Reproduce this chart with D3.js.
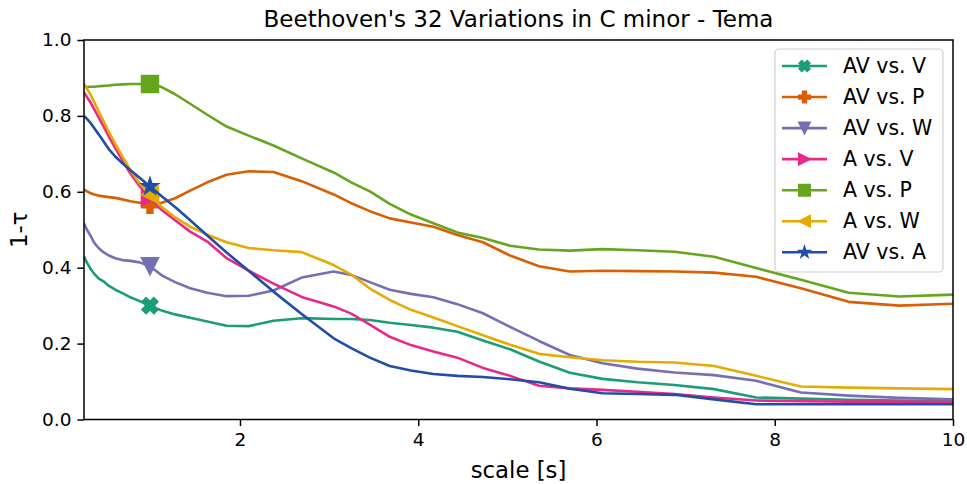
<!DOCTYPE html>
<html>
<head>
<meta charset="utf-8">
<script src="https://cdn.jsdelivr.net/npm/d3@7/dist/d3.min.js"></script>
<style>
  html, body { margin: 0; padding: 0; background: #fff; }
  svg { display: block; font-family: "DejaVu Sans", sans-serif; }
</style>
</head>
<body>
<svg id="chart" width="967" height="484"></svg>
<script>
// Time scales (seconds) at which the dissimilarity was evaluated
const scales = [0.25, 0.283, 0.321, 0.364, 0.413, 0.468, 0.530, 0.601, 0.681, 0.771,
  0.874, 0.990, 1.122, 1.272, 1.441, 1.633, 1.850, 2.097, 2.376, 2.692,
  3.051, 3.248, 3.457, 3.680, 3.918, 4.170, 4.439, 4.726, 5.030, 5.355,
  5.700, 6.068, 6.459, 6.876, 7.319, 7.791, 8.294, 8.829, 9.398, 10.0];

// 1 - tau for each comparison
const avV = [0.430, 0.413, 0.398, 0.384, 0.372, 0.364, 0.352, 0.342, 0.333, 0.322,
  0.312, 0.300, 0.287, 0.277, 0.268, 0.258, 0.247, 0.246, 0.260, 0.267,
  0.265, 0.265, 0.262, 0.255, 0.249, 0.242, 0.231, 0.208, 0.185, 0.153,
  0.123, 0.107, 0.098, 0.091, 0.080, 0.058, 0.055, 0.052, 0.050, 0.048];
const avP = [0.606, 0.601, 0.597, 0.593, 0.590, 0.588, 0.586, 0.584, 0.580, 0.575,
  0.571, 0.566, 0.571, 0.583, 0.603, 0.625, 0.645, 0.654, 0.652, 0.628,
  0.593, 0.570, 0.549, 0.530, 0.519, 0.508, 0.486, 0.467, 0.432, 0.404,
  0.390, 0.392, 0.391, 0.390, 0.387, 0.376, 0.346, 0.310, 0.300, 0.305];
const avW = [0.517, 0.500, 0.485, 0.466, 0.452, 0.441, 0.432, 0.425, 0.420, 0.418,
  0.414, 0.404, 0.380, 0.362, 0.346, 0.334, 0.325, 0.326, 0.340, 0.374,
  0.390, 0.381, 0.362, 0.342, 0.331, 0.322, 0.304, 0.280, 0.244, 0.207,
  0.170, 0.148, 0.134, 0.124, 0.117, 0.102, 0.071, 0.063, 0.057, 0.053];
const aV = [0.862, 0.850, 0.836, 0.818, 0.797, 0.773, 0.745, 0.715, 0.683, 0.648,
  0.615, 0.586, 0.552, 0.525, 0.495, 0.469, 0.425, 0.392, 0.358, 0.323,
  0.298, 0.279, 0.250, 0.218, 0.196, 0.179, 0.163, 0.136, 0.115, 0.089,
  0.082, 0.078, 0.073, 0.067, 0.058, 0.050, 0.048, 0.047, 0.047, 0.046];
const aP = [0.876, 0.876, 0.877, 0.877, 0.878, 0.879, 0.880, 0.882, 0.883, 0.884,
  0.884, 0.884, 0.876, 0.857, 0.832, 0.803, 0.772, 0.748, 0.722, 0.688,
  0.651, 0.625, 0.601, 0.568, 0.540, 0.517, 0.493, 0.478, 0.458, 0.448,
  0.445, 0.449, 0.446, 0.442, 0.429, 0.399, 0.368, 0.334, 0.324, 0.329];
const aW = [0.885, 0.872, 0.857, 0.837, 0.813, 0.787, 0.757, 0.726, 0.693, 0.657,
  0.622, 0.592, 0.560, 0.533, 0.508, 0.487, 0.467, 0.452, 0.446, 0.441,
  0.407, 0.382, 0.345, 0.315, 0.289, 0.269, 0.246, 0.222, 0.197, 0.173,
  0.164, 0.156, 0.152, 0.150, 0.141, 0.115, 0.087, 0.084, 0.082, 0.080];
const avA = [0.800, 0.792, 0.782, 0.768, 0.752, 0.733, 0.712, 0.693, 0.675, 0.657,
  0.637, 0.614, 0.588, 0.560, 0.525, 0.485, 0.440, 0.392, 0.337, 0.278,
  0.214, 0.188, 0.163, 0.141, 0.129, 0.120, 0.115, 0.112, 0.106, 0.098,
  0.081, 0.069, 0.067, 0.065, 0.053, 0.040, 0.040, 0.040, 0.040, 0.040];

const seriesNames = ["AV vs. V", "AV vs. P", "AV vs. W", "A vs. V", "A vs. P", "A vs. W", "AV vs. A"];
const seriesValues = [avV, avP, avW, aV, aP, aW, avA];
const seriesColors = ["#1b9e77", "#d95f02", "#7570b3", "#e7298a", "#66a61e", "#e6ab02", "#1f4ea6"];
const seriesMarkers = ["X", "P", "v", ">", "s", "<", "*"];
const xTicks = [2, 4, 6, 8, 10];
const yTicks = [0.0, 0.2, 0.4, 0.6, 0.8, 1.0];
const markIndex = 11; // one marker per curve, at the ~1 s scale

const svg = d3.select("#chart");
const m = { left: 84, right: 953, top: 40, bottom: 419.5 };

const x = d3.scaleLinear().domain([0.25, 10]).range([m.left, m.right]);
const y = d3.scaleLinear().domain([0, 1]).range([m.bottom, m.top]);

// Marker shapes (size = full extent in px), modelled on matplotlib markers
function markerPath(kind, s) {
  const h = s / 2;
  const poly = pts => "M" + pts.map(p => p[0].toFixed(2) + "," + p[1].toFixed(2)).join("L") + "Z";
  const plus = () => {
    const a = s / 6, b = s / 2;
    return [[-a, -b], [a, -b], [a, -a], [b, -a], [b, a], [a, a], [a, b], [-a, b], [-a, a], [-b, a], [-b, -a], [-a, -a]];
  };
  switch (kind) {
    case "s": return poly([[-h, -h], [h, -h], [h, h], [-h, h]]);
    case "v": return poly([[-h, -h], [h, -h], [0, h]]);
    case ">": return poly([[-h, -h], [h, 0], [-h, h]]);
    case "<": return poly([[h, -h], [-h, 0], [h, h]]);
    case "P": return poly(plus());
    case "X": {
      const c = Math.SQRT1_2;
      return poly(plus().map(([px, py]) => [(px - py) * c, (px + py) * c]));
    }
    case "*": {
      const pts = [];
      for (let i = 0; i < 10; i++) {
        const r = i % 2 === 0 ? h : h * 0.381966;
        const ang = -Math.PI / 2 + i * Math.PI / 5;
        pts.push([r * Math.cos(ang), r * Math.sin(ang)]);
      }
      return poly(pts);
    }
  }
}

// Title
svg.append("text")
  .attr("x", (m.left + m.right) / 2).attr("y", 27)
  .attr("text-anchor", "middle")
  .attr("font-size", 23).attr("fill", "#000")
  .text("Beethoven's 32 Variations in C minor - Tema");

// Axes
const xAxis = d3.axisBottom(x).tickValues(xTicks).tickFormat(d3.format("d")).tickSize(6.6).tickPadding(7);
const yAxis = d3.axisLeft(y).tickValues(yTicks).tickFormat(d3.format(".1f")).tickSize(6.6).tickPadding(6);

const gx = svg.append("g").attr("transform", `translate(0,${m.bottom})`).call(xAxis);
const gy = svg.append("g").attr("transform", `translate(${m.left},0)`).call(yAxis);
[gx, gy].forEach(g => {
  g.select(".domain").remove();
  g.selectAll(".tick line").attr("stroke", "#000").attr("stroke-width", 1.5);
  g.selectAll(".tick text").attr("font-size", 18.5).attr("fill", "#000")
    .attr("font-family", "DejaVu Sans, sans-serif");
});

// Curves
const plot = svg.append("g");
plot.append("defs").append("clipPath").attr("id", "clip")
  .append("rect").attr("x", m.left).attr("y", m.top)
  .attr("width", m.right - m.left).attr("height", m.bottom - m.top);

const line = d3.line().x(d => x(d[0])).y(d => y(d[1]));

seriesValues.forEach((vals, i) => {
  const pts = scales.map((s, j) => [s, vals[j]]);
  const g = plot.append("g");
  g.append("path")
    .attr("d", line(pts))
    .attr("fill", "none")
    .attr("stroke", seriesColors[i])
    .attr("stroke-width", 2.6)
    .attr("stroke-linejoin", "round")
    .attr("stroke-linecap", "butt")
    .attr("clip-path", "url(#clip)");
  const mp = pts[markIndex];
  g.append("path")
    .attr("d", markerPath(seriesMarkers[i], 16.5))
    .attr("transform", `translate(${x(mp[0])},${y(mp[1])})`)
    .attr("fill", seriesColors[i])
    .attr("stroke", seriesColors[i])
    .attr("stroke-width", 1.9)
    .attr("stroke-linejoin", "miter");
});

// Frame
svg.append("rect")
  .attr("x", m.left).attr("y", m.top)
  .attr("width", m.right - m.left).attr("height", m.bottom - m.top)
  .attr("fill", "none").attr("stroke", "#000").attr("stroke-width", 1.5);

// Axis labels
svg.append("text")
  .attr("x", (m.left + m.right) / 2).attr("y", 478)
  .attr("text-anchor", "middle")
  .attr("font-size", 22.8).attr("fill", "#000")
  .text("scale [s]");
svg.append("text")
  .attr("transform", `translate(27,${(m.top + m.bottom) / 2}) rotate(-90)`)
  .attr("text-anchor", "middle")
  .attr("font-size", 22.8).attr("fill", "#000")
  .text("1-τ");

// Legend
const lg = svg.append("g");
lg.append("rect")
  .attr("x", 775).attr("y", 49).attr("width", 168).attr("height", 223)
  .attr("rx", 4).attr("ry", 4)
  .attr("fill", "#fff").attr("fill-opacity", 0.8)
  .attr("stroke", "#d0d0d0").attr("stroke-width", 1.2);
seriesNames.forEach((name, i) => {
  const cy = 66 + i * 31.05;
  lg.append("line")
    .attr("x1", 782).attr("x2", 827).attr("y1", cy).attr("y2", cy)
    .attr("stroke", seriesColors[i]).attr("stroke-width", 2.6);
  lg.append("path")
    .attr("d", markerPath(seriesMarkers[i], 11.5))
    .attr("transform", `translate(804.5,${cy})`)
    .attr("fill", seriesColors[i])
    .attr("stroke", seriesColors[i]).attr("stroke-width", 1.5);
  lg.append("text")
    .attr("x", 843).attr("y", cy).attr("dy", "0.35em")
    .attr("font-size", 20.5).attr("fill", "#000")
    .text(name);
});
</script>
</body>
</html>
